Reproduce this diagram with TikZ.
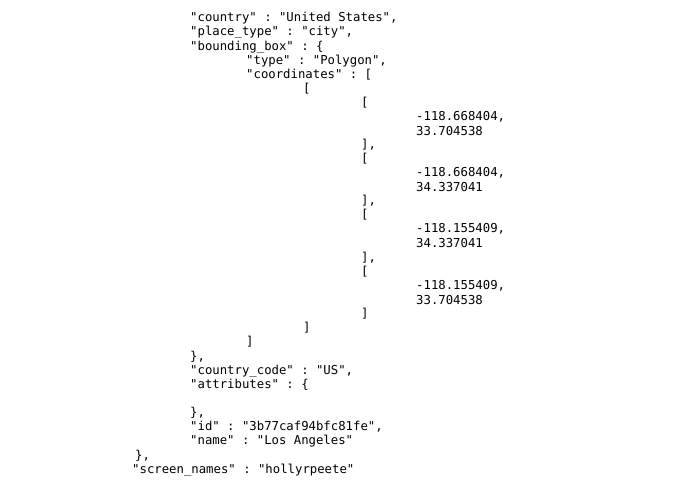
\documentclass[tikz,border=0pt]{standalone}
\usepackage{fontspec}
\setmonofont{DejaVu Sans Mono}
\begin{document}
\begin{tikzpicture}[x=1pt,y=-1pt,
  code/.style={anchor=west,inner sep=0pt,font=\ttfamily\fontsize{12.3}{14}\selectfont,text=black}]
\useasboundingbox (0,0) rectangle (695,494);
\node[code] (l1) at (190,18) {"country" : "United States",};
\node[code] (l2) at (190,32) {"place\_type" : "city",};
\node[code] (l3) at (190,47) {"bounding\_box" : \{};
\node[code] (l4) at (246,61) {"type" : "Polygon",};
\node[code] (l5) at (246,75) {"coordinates" : [};
\node[code] (l6) at (303,89) {[};
\node[code] (l7) at (361,103) {[};
\node[code] (l8) at (416,117) {-118.668404,};
\node[code] (l9) at (416,131) {33.704538};
\node[code] (l10) at (361,145) {],};
\node[code] (l11) at (361,159) {[};
\node[code] (l12) at (416,173) {-118.668404,};
\node[code] (l13) at (416,187) {34.337041};
\node[code] (l14) at (361,201) {],};
\node[code] (l15) at (361,215) {[};
\node[code] (l16) at (416,229) {-118.155409,};
\node[code] (l17) at (416,243) {34.337041};
\node[code] (l18) at (361,258) {],};
\node[code] (l19) at (361,272) {[};
\node[code] (l20) at (416,286) {-118.155409,};
\node[code] (l21) at (416,300) {33.704538};
\node[code] (l22) at (361,314) {]};
\node[code] (l23) at (303,328) {]};
\node[code] (l24) at (246,342) {]};
\node[code] (l25) at (190,357) {\},};
\node[code] (l26) at (190,371) {"country\_code" : "US",};
\node[code] (l27) at (190,385) {"attributes" : \{};
\node[code] (l28) at (190,413) {\},};
\node[code] (l29) at (190,427) {"id" : "3b77caf94bfc81fe",};
\node[code] (l30) at (190,441) {"name" : "Los Angeles"};
\node[code] (l31) at (135,456) {\},};
\node[code] (l32) at (132,470) {"screen\_names" : "hollyrpeete"};
\end{tikzpicture}
\end{document}
